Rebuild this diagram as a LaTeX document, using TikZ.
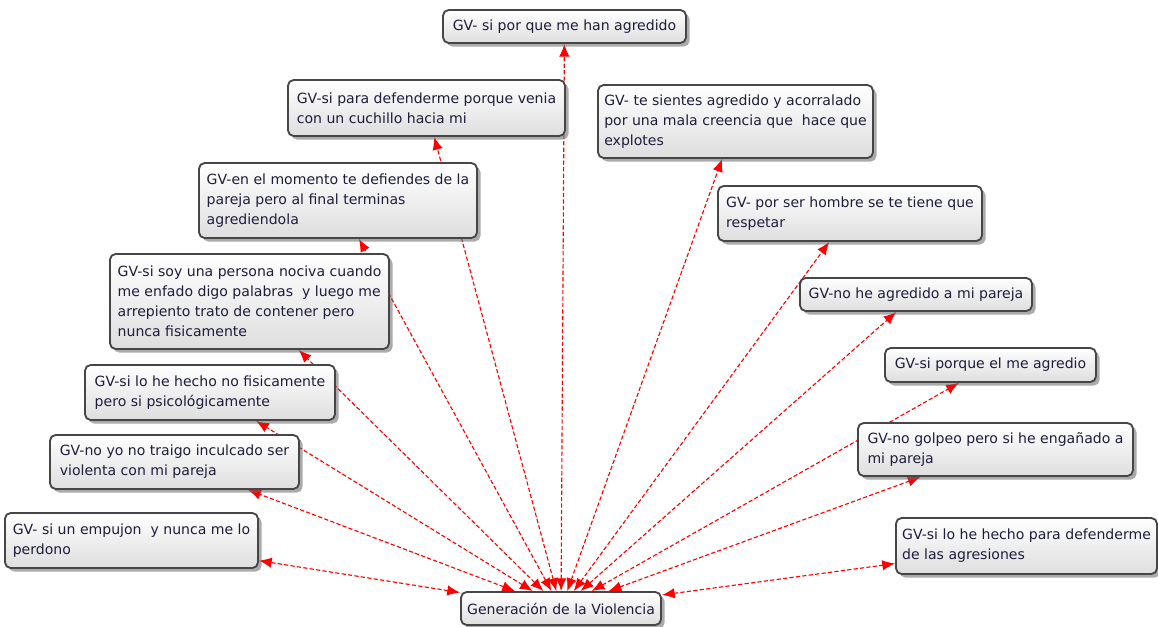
\documentclass[tikz,border=0pt]{standalone}
\usepackage{fontspec}
\setmainfont{DejaVu Sans}
\usetikzlibrary{positioning,arrows.meta,shadows}
\definecolor{gvtext}{RGB}{30,30,60}
\definecolor{gvborder}{RGB}{70,70,70}
\pgfdeclarelayer{bg}
\pgfsetlayers{bg,main}
\tikzset{boxsize/.style n args={2}{minimum width=#1*0.025cm, minimum height=#2*0.025cm}}

\begin{document}
\begin{tikzpicture}[
        x=0.025cm, y=-0.025cm,
        every node/.style={font=\fontsize{10}{14.2}\selectfont, text=gvtext},
        gvbox/.style={draw=gvborder, line width=1.3pt, rounded corners=4pt, top color=white, bottom color=black!13, align=left, inner sep=3pt, drop shadow={shadow xshift=2.5pt, shadow yshift=-2.5pt, fill=black!60, opacity=0.55}},
        gvarrow/.style={{Latex[length=3.2mm,width=2.6mm]}-{Latex[length=3.2mm,width=2.6mm]}, red, dash pattern=on 3pt off 1.6pt, line width=0.8pt}
    ]
        \useasboundingbox (0,0) rectangle (1158,626);

        % Central node
        \node[gvbox, boxsize={200}{33}] (gen) at (561,608.5) {Generación de la Violencia};

        % Answers, top to bottom
        \node[gvbox, boxsize={243}{33}] (g1) at (564.5,26.5) {GV- si por que me han agredido};
        \node[gvbox, boxsize={277}{56}] (g2) at (426.5,108) {GV-si para defenderme porque venia\\con un cuchillo hacia mi};
        \node[gvbox, boxsize={275}{73}] (g3) at (735.5,121.5) {GV- te sientes agredido y acorralado\\por una mala creencia que\ \ hace que\\explotes};
        \node[gvbox, boxsize={278}{75}] (g4) at (338,200.5) {GV-en el momento te defiendes de la\\pareja pero al final terminas\\agrediendola};
        \node[gvbox, boxsize={264}{55}] (g5) at (850,213.5) {GV- por ser hombre se te tiene que\\respetar};
        \node[gvbox, boxsize={279}{95}] (g6) at (249.5,301.5) {GV-si soy una persona nociva cuando\\me enfado digo palabras\ \ y luego me\\arrepiento trato de contener pero\\nunca fisicamente};
        \node[gvbox, boxsize={232}{33}] (g7) at (916,294.5) {GV-no he agredido a mi pareja};
        \node[gvbox, boxsize={250}{55}] (g8) at (210,392.5) {GV-si lo he hecho no fisicamente\\pero si psicológicamente};
        \node[gvbox, boxsize={211}{34}] (g9) at (990.5,365) {GV-si porque el me agredio};
        \node[gvbox, boxsize={249}{54}] (g10) at (174.5,462) {GV-no yo no traigo inculcado ser\\violenta con mi pareja};
        \node[gvbox, boxsize={275}{53}] (g11) at (995.5,449.5) {GV-no golpeo pero si he engañado a\\mi pareja};
        \node[gvbox, boxsize={253}{55}] (g12) at (131.5,540.5) {GV- si un empujon\ \ y nunca me lo\\perdono};
        \node[gvbox, boxsize={261}{56}] (g13) at (1026.5,546) {GV-si lo he hecho para defenderme\\de las agresiones};

        % Connectors, behind the boxes
        \begin{pgfonlayer}{bg}
        \draw[gvarrow] (gen) -- (g1);
        \draw[gvarrow] (gen) -- (g2);
        \draw[gvarrow] (gen) -- (g3);
        \draw[gvarrow] (gen) -- (g4);
        \draw[gvarrow] (gen) -- (g5);
        \draw[gvarrow] (gen) -- (g6);
        \draw[gvarrow] (gen) -- (g7);
        \draw[gvarrow] (gen) -- (g8);
        \draw[gvarrow] (gen) -- (g9);
        \draw[gvarrow] (gen) -- (g10);
        \draw[gvarrow] (gen) -- (g11);
        \draw[gvarrow] (gen) -- (g12);
        \draw[gvarrow] (gen) -- (g13);
        \end{pgfonlayer}

    \end{tikzpicture}
\end{document}
